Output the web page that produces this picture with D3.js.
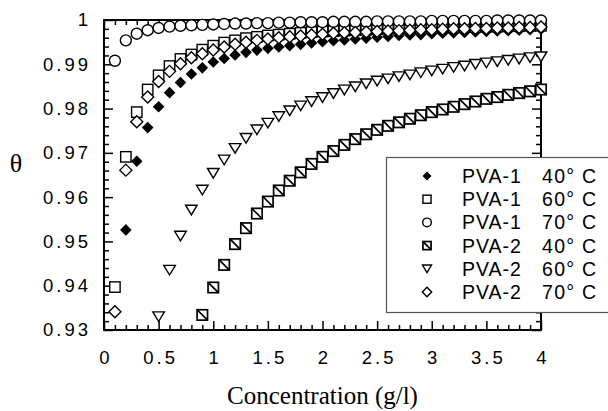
<!DOCTYPE html>
<html><head><meta charset="utf-8">
<script src="https://cdn.jsdelivr.net/npm/d3@7"></script>
<style>body{margin:0;background:#fff}svg{display:block}</style>
</head><body>
<svg id="chart" width="608" height="411"></svg>
<script>
// ---- data ----
const conc = [0.1,0.2,0.3,0.4,0.5,0.6,0.7,0.8,0.9,1.0,1.1,1.2,1.3,1.4,1.5,1.6,1.7,1.8,1.9,2.0,
              2.1,2.2,2.3,2.4,2.5,2.6,2.7,2.8,2.9,3.0,3.1,3.2,3.3,3.4,3.5,3.6,3.7,3.8,3.9,4.0];
const pva1_40 = [null,0.9526,0.9681,0.9757,0.9804,0.9836,0.9859,0.9878,0.9892,0.9905,0.9913,0.9921,0.9927,0.9932,0.9936,0.9939,0.9942,0.9945,0.9948,0.9951,
                 0.9953,0.9955,0.9957,0.9959,0.9961,0.9963,0.9965,0.9966,0.9967,0.9969,0.9970,0.9971,0.9972,0.9973,0.9974,0.9975,0.9976,0.9977,0.9978,0.9979];
const pva1_60 = [0.9397,0.9691,0.9792,0.9843,0.9875,0.9896,0.9912,0.9922,0.9933,0.9942,0.9949,0.9954,0.9959,0.9962,0.9965,0.9967,0.9969,0.9971,0.9973,0.9974,
                 0.9975,0.9976,0.9977,0.9978,0.9979,0.9980,0.9981,0.9981,0.9982,0.9982,0.9983,0.9983,0.9984,0.9984,0.9985,0.9985,0.9986,0.9986,0.9987,0.9987];
const pva1_70 = [0.9908,0.9954,0.9969,0.9977,0.9982,0.9985,0.9987,0.9988,0.9989,0.9990,0.9991,0.9992,0.9992,0.9993,0.9993,0.9994,0.9994,0.9995,0.9995,0.9995,
                 0.9996,0.9996,0.9996,0.9996,0.9997,0.9997,0.9997,0.9997,0.9997,0.9998,0.9998,0.9998,0.9998,0.9998,0.9998,0.9999,0.9999,0.9999,0.9999,0.9999];
const pva2_40 = [null,null,null,null,null,null,null,null,0.9334,0.9396,0.9447,0.9494,0.9530,0.9563,0.9590,0.9615,0.9637,0.9656,0.9675,0.9691,
                 0.9704,0.9718,0.9731,0.9742,0.9752,0.9761,0.9769,0.9777,0.9785,0.9792,0.9798,0.9804,0.9810,0.9816,0.9822,0.9826,0.9831,0.9835,0.9839,0.9843];
const pva2_60 = [null,null,null,null,0.9330,0.9435,0.9512,0.9571,0.9616,0.9654,0.9684,0.9710,0.9733,0.9752,0.9767,0.9782,0.9795,0.9806,0.9816,0.9825,
                 0.9834,0.9842,0.9849,0.9856,0.9862,0.9867,0.9872,0.9876,0.9881,0.9885,0.9889,0.9893,0.9896,0.9900,0.9903,0.9906,0.9909,0.9912,0.9915,0.9917];
const pva2_70 = [0.9341,0.9661,0.9770,0.9826,0.9861,0.9884,0.9901,0.9915,0.9924,0.9932,0.9939,0.9945,0.9950,0.9954,0.9957,0.9960,0.9962,0.9964,0.9966,0.9968,
                 0.9970,0.9971,0.9972,0.9973,0.9974,0.9975,0.9976,0.9977,0.9978,0.9978,0.9979,0.9980,0.9980,0.9981,0.9981,0.9982,0.9982,0.9983,0.9983,0.9984];
const seriesNames = ["PVA-1","PVA-1","PVA-1","PVA-2","PVA-2","PVA-2"];
const seriesTemps = ["40° C","60° C","70° C","40° C","60° C","70° C"];
const seriesValues = [pva1_40,pva1_60,pva1_70,pva2_40,pva2_60,pva2_70];
const seriesMarks = ["filledDiamond","square","circle","hatchSquare","triangleDown","diamond"];
const xTicks = [0,0.5,1,1.5,2,2.5,3,3.5,4];
const xTickLabels = ["0","0.5","1","1.5","2","2.5","3","3.5","4"];
const yTicks = [0.93,0.94,0.95,0.96,0.97,0.98,0.99,1];
const yTickLabels = ["0.93","0.94","0.95","0.96","0.97","0.98","0.99","1"];
const xLabel = "Concentration (g/l)";
const yLabel = "θ";

// ---- layout ----
const svg = d3.select("#chart");
const L=104, R=541, T=20, B=330;
const x = d3.scaleLinear().domain([0,4]).range([L,R]);
const y = d3.scaleLinear().domain([0.93,1]).range([B,T]);
const sans = "'Liberation Sans', Arial, Helvetica, sans-serif";
const serif = "'Liberation Serif', 'Times New Roman', Times, serif";

// minor ticks
const xMinor = d3.range(0,41).map(i=>i/10).filter(v=>Math.round(v*10)%5!==0);
const yMinor = d3.range(0,36).map(i=>0.93+i*0.002).filter(v=>Math.round(v*1000)%10!==0);

function styleAxis(g){
  g.select(".domain").remove();
  g.selectAll(".tick line").attr("stroke","#000").attr("stroke-width",1.5);
}
// bottom
svg.append("g").attr("transform",`translate(0,${B})`)
  .call(d3.axisBottom(x).tickValues(xMinor).tickSize(-5).tickFormat(""))
  .call(styleAxis);
svg.append("g").attr("transform",`translate(0,${B})`)
  .call(d3.axisBottom(x).tickValues(xTicks).tickSize(-9).tickPadding(21)
        .tickFormat((d,i)=>xTickLabels[i]))
  .call(styleAxis)
  .call(g=>g.selectAll("text").attr("font-family",sans).attr("font-size",18.5)
        .attr("letter-spacing","3px").attr("dx","1.5px").attr("fill","#000"));
// top
svg.append("g").attr("transform",`translate(0,${T})`)
  .call(d3.axisTop(x).tickValues(xMinor).tickSize(-5).tickFormat("")).call(styleAxis);
svg.append("g").attr("transform",`translate(0,${T})`)
  .call(d3.axisTop(x).tickValues(xTicks).tickSize(-9).tickFormat("")).call(styleAxis);
// left
svg.append("g").attr("transform",`translate(${L},0)`)
  .call(d3.axisLeft(y).tickValues(yMinor).tickSize(-5).tickFormat("")).call(styleAxis);
svg.append("g").attr("transform",`translate(${L},0)`)
  .call(d3.axisLeft(y).tickValues(yTicks).tickSize(-9).tickPadding(13)
        .tickFormat((d,i)=>yTickLabels[i]))
  .call(styleAxis)
  .call(g=>g.selectAll("text").attr("font-family",sans).attr("font-size",18.5)
        .attr("letter-spacing","3px").attr("fill","#000"));
// right
svg.append("g").attr("transform",`translate(${R},0)`)
  .call(d3.axisRight(y).tickValues(yMinor).tickSize(-5).tickFormat("")).call(styleAxis);
svg.append("g").attr("transform",`translate(${R},0)`)
  .call(d3.axisRight(y).tickValues(yTicks).tickSize(-9).tickFormat("")).call(styleAxis);

// frame
svg.append("rect").attr("x",L).attr("y",T).attr("width",R-L).attr("height",B-T)
  .attr("fill","none").attr("stroke","#000").attr("stroke-width",2);

// markers
function drawMark(g, type, cx, cy, k){
  const sw = 1.4;
  if(type==="filledDiamond"){
    const h=5.8*k;
    g.append("path").attr("d",`M${cx},${cy-h}L${cx+h},${cy}L${cx},${cy+h}L${cx-h},${cy}Z`).attr("fill","#000");
  } else if(type==="diamond"){
    const h=6*k;
    g.append("path").attr("d",`M${cx},${cy-h}L${cx+h},${cy}L${cx},${cy+h}L${cx-h},${cy}Z`)
      .attr("fill","#fff").attr("stroke","#000").attr("stroke-width",sw);
  } else if(type==="square"){
    const h=5.2*k;
    g.append("rect").attr("x",cx-h).attr("y",cy-h).attr("width",2*h).attr("height",2*h)
      .attr("fill","#fff").attr("stroke","#000").attr("stroke-width",sw);
  } else if(type==="circle"){
    g.append("circle").attr("cx",cx).attr("cy",cy).attr("r",5.5*k)
      .attr("fill","#fff").attr("stroke","#000").attr("stroke-width",sw);
  } else if(type==="hatchSquare"){
    const h=5.2*k;
    g.append("rect").attr("x",cx-h).attr("y",cy-h).attr("width",2*h).attr("height",2*h)
      .attr("fill","#fff").attr("stroke","#000").attr("stroke-width",sw+0.3);
    g.append("line").attr("x1",cx-h).attr("y1",cy-h).attr("x2",cx+h).attr("y2",cy+h)
      .attr("stroke","#000").attr("stroke-width",sw+0.3);
  } else if(type==="triangleDown"){
    const w=5.8*k, hh=4.8*k;
    g.append("path").attr("d",`M${cx-w},${cy-hh}L${cx+w},${cy-hh}L${cx},${cy+hh}Z`)
      .attr("fill","#fff").attr("stroke","#000").attr("stroke-width",sw);
  }
}
const marks = svg.append("g");
seriesValues.forEach((vals,si)=>{
  const g = marks.append("g");
  vals.forEach((v,i)=>{
    if(v===null) return;
    drawMark(g, seriesMarks[si], x(conc[i]), y(v), 1);
  });
});

// legend
const lg = svg.append("g");
lg.append("rect").attr("x",386.5).attr("y",157.5).attr("width",240).attr("height",155)
  .attr("fill","#fff").attr("stroke","#555").attr("stroke-width",1.2);
seriesNames.forEach((n,i)=>{
  const ly = 176 + i*23.2;
  drawMark(lg, seriesMarks[i], 427, ly, 0.78);
  lg.append("text").attr("x",462).attr("y",ly).attr("dy","0.36em")
    .attr("font-family",sans).attr("font-size",19.5).attr("letter-spacing","1px").text(n);
  lg.append("text").attr("x",542).attr("y",ly).attr("dy","0.36em")
    .attr("font-family",sans).attr("font-size",19.5).attr("letter-spacing","1.3px").text(seriesTemps[i]);
});

// axis titles
svg.append("text").attr("x",(L+R)/2).attr("y",404).attr("text-anchor","middle")
  .attr("font-family",serif).attr("font-size",25).text(xLabel);
svg.append("text").attr("x",16).attr("y",172).attr("text-anchor","middle")
  .attr("font-family",serif).attr("font-size",26).text(yLabel);
</script>
</body></html>
